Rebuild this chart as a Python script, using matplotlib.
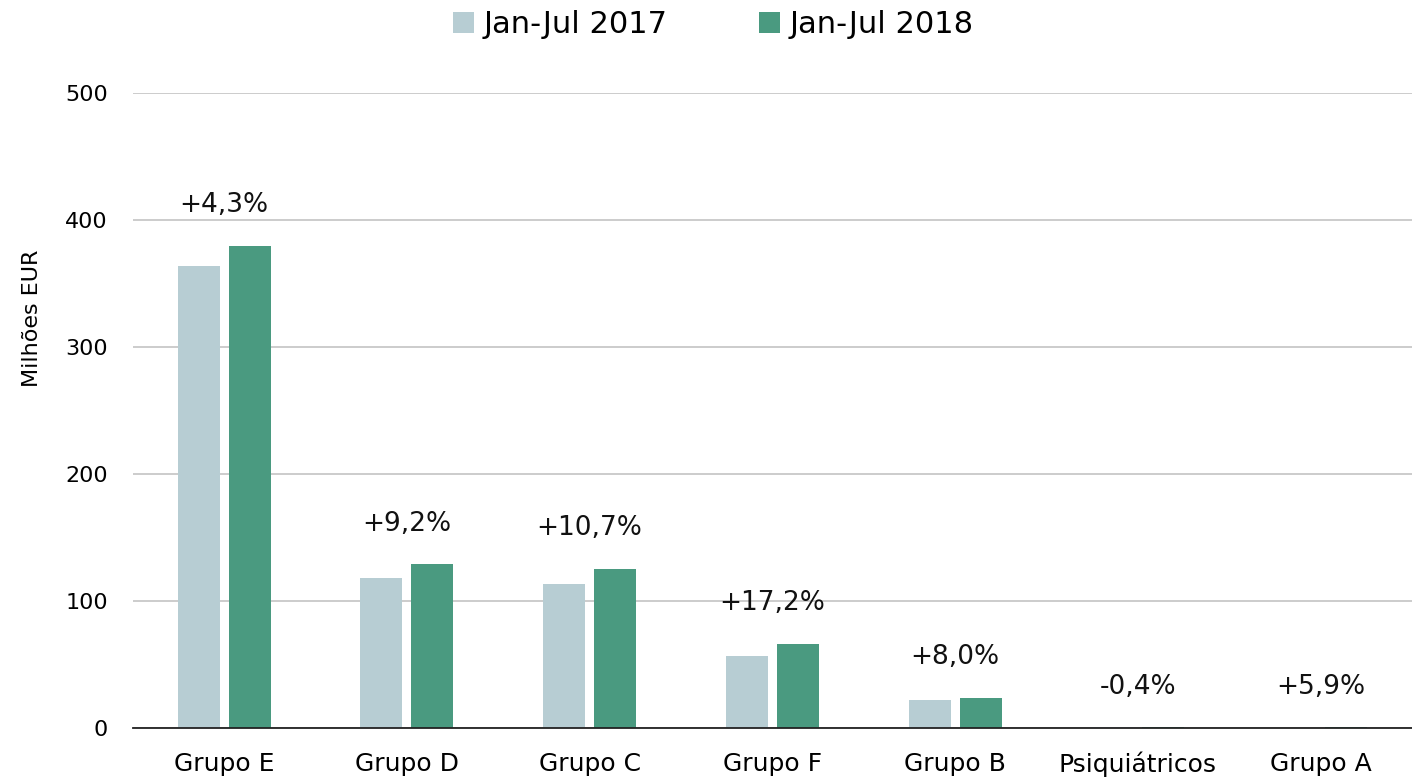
import matplotlib
matplotlib.use("Agg")
import matplotlib.pyplot as plt
import numpy as np

plt.rcParams['font.family'] = ['DejaVu Sans']

categories = ["Grupo E", "Grupo D", "Grupo C", "Grupo F", "Grupo B", "Psiquiátricos", "Grupo A"]
v2017 = [364, 118, 113.5, 56.7, 22, 0.5, 0.4]
v2018 = [379.5, 128.8, 125.6, 66.4, 23.8, 0.5, 0.45]
changes = ["+4,3%", "+9,2%", "+10,7%", "+17,2%", "+8,0%", "-0,4%", "+5,9%"]
series_names = ["Jan-Jul 2017", "Jan-Jul 2018"]
yticks = [0, 100, 200, 300, 400, 500]

c17 = "#b7cdd3"
c18 = "#4a9a80"

fig = plt.figure(figsize=(14.12, 7.82), dpi=100)
ax = fig.add_axes([0.094, 0.069, 0.906, 0.812])

x = np.arange(len(categories))
w = 0.23
off = 0.14
ax.bar(x - off, v2017, w, color=c17, label=series_names[0], zorder=3)
ax.bar(x + off, v2018, w, color=c18, label=series_names[1], zorder=3)

for xi, a, b, t in zip(x, v2017, v2018, changes):
    top = max(a, b)
    ax.annotate(t, (xi, top), xytext=(0, 20), textcoords="offset points",
                ha="center", va="bottom", fontsize=19, color="#111111")

ax.set_xlim(-0.5, len(categories) - 0.5)
ax.set_ylim(0, 500)
ax.set_yticks(yticks)
ax.set_yticklabels([str(v) for v in yticks], fontsize=16)
ax.set_xticks(x)
ax.set_xticklabels(categories, fontsize=18)
ax.tick_params(axis='x', length=0, pad=17)
ax.tick_params(axis='y', length=0, pad=18)
ax.yaxis.grid(True, color="#c8c8c8", linewidth=1.3, zorder=0)
for s in ["top", "right", "left"]:
    ax.spines[s].set_visible(False)
ax.spines["bottom"].set_color("#222222")
ax.spines["bottom"].set_linewidth(1.3)
ax.spines["bottom"].set_zorder(4)
ax.set_ylabel("Milhões EUR", fontsize=16)
ax.yaxis.set_label_coords(-0.071, 0.646)

fig.legend(loc="upper center", bbox_to_anchor=(0.505, 1.022), ncol=2, frameon=False,
           fontsize=22, handlelength=0.7, handleheight=0.7, columnspacing=3.0,
           handletextpad=0.3)

fig.savefig("out.png", dpi=100)
